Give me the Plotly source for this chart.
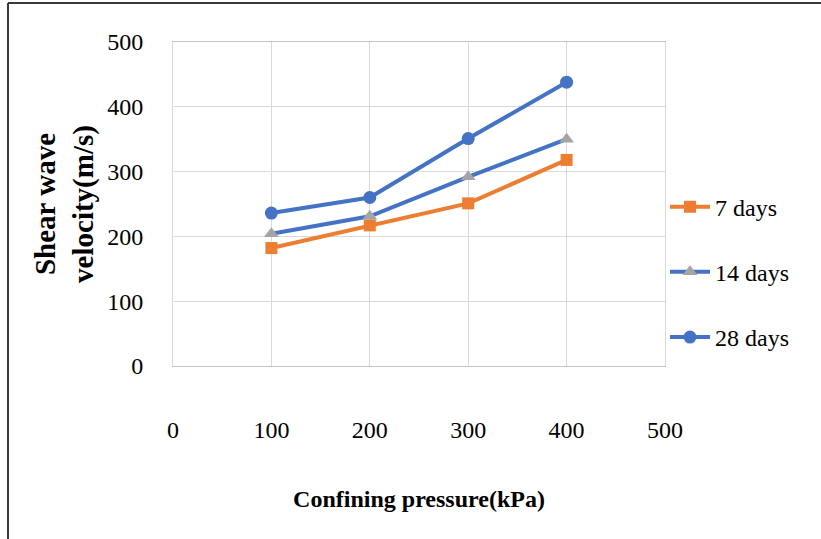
import plotly.graph_objects as go

pressure = [100, 200, 300, 400]
days7 = [182, 217, 251, 318]
days14 = [204, 231, 292, 350]
days28 = [236, 260, 351, 438]

series_names = ["7 days", "14 days", "28 days"]
x_ticks = [0, 100, 200, 300, 400, 500]
y_ticks = [0, 100, 200, 300, 400, 500]

ORANGE = "#ED7D31"
BLUE = "#4472C4"
GRAY = "#A5A5A5"
FONT = "Liberation Serif"

fig = go.Figure()
fig.add_trace(go.Scatter(
    x=pressure, y=days7, name=series_names[0], mode="lines+markers",
    line=dict(color=ORANGE, width=4),
    marker=dict(symbol="square", size=12, color=ORANGE),
    legendgroup="a"))
fig.add_trace(go.Scatter(
    x=pressure, y=days14, name=series_names[1], mode="lines+markers",
    line=dict(color=BLUE, width=4),
    marker=dict(symbol="triangle-up", size=13, color=GRAY),
    legendgroup="b"))
fig.add_trace(go.Scatter(
    x=pressure, y=days28, name=series_names[2], mode="lines+markers",
    line=dict(color=BLUE, width=4),
    marker=dict(symbol="circle", size=13, color=BLUE),
    legendgroup="c"))

fig.update_layout(
    width=821, height=539,
    margin=dict(l=173, r=156, t=42, b=173),
    paper_bgcolor="white", plot_bgcolor="white",
    font=dict(family=FONT, color="#000000", size=24),
    showlegend=True,
    legend=dict(x=1.0, y=0.56, xanchor="left", yanchor="top",
                font=dict(family=FONT, size=24, color="#000"),
                tracegroupgap=31, itemwidth=40,
                bgcolor="rgba(0,0,0,0)"),
    xaxis=dict(range=[0, 500], tickvals=x_ticks, showgrid=True,
               gridcolor="#D9D9D9", gridwidth=1, zeroline=False,
               showline=True, linecolor="#C4C4C4", linewidth=1, mirror=True,
               ticks="", ticklabelstandoff=42,
               tickfont=dict(family=FONT, size=24),
               title=dict(text="<b>Confining pressure(kPa)</b>",
                          font=dict(family=FONT, size=24), standoff=48)),
    yaxis=dict(range=[0, 500], tickvals=y_ticks, showgrid=True,
               gridcolor="#D9D9D9", gridwidth=1, zeroline=False,
               showline=True, linecolor="#D9D9D9", linewidth=1, mirror=True,
               ticks="", ticklabelstandoff=24,
               tickfont=dict(family=FONT, size=24),
               title=dict(text="<b>Shear wave<br>velocity(m/s)</b>",
                          font=dict(family=FONT, size=29), standoff=5)),
    shapes=[
        dict(type="line", xref="paper", yref="paper",
             x0=(8 - 173) / 492, x1=(821 - 173) / 492,
             y0=(366 - 3) / 324, y1=(366 - 3) / 324,
             line=dict(color="#3a3a3a", width=2)),
        dict(type="line", xref="paper", yref="paper",
             x0=(8 - 173) / 492, x1=(8 - 173) / 492,
             y0=(366 - 3) / 324, y1=(366 - 539) / 324,
             line=dict(color="#3a3a3a", width=2)),
    ],
)

fig.write_html("out.html")
